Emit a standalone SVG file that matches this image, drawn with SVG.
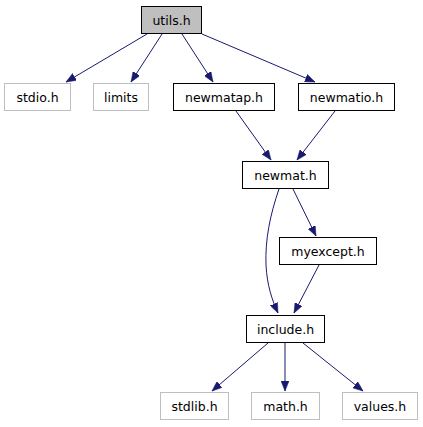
<svg xmlns="http://www.w3.org/2000/svg" width="423" height="427" viewBox="0 0 423 427">
<style>
.box{fill:#ffffff;stroke:#000000;stroke-width:1}
.ext{fill:#ffffff;stroke:#bfbfbf;stroke-width:1}
.cur{fill:#bfbfbf;stroke:#000000;stroke-width:1}
text{font-family:"DejaVu Sans","Liberation Sans",sans-serif;font-size:12.5px;fill:#000000;text-anchor:middle}
.edge{fill:none;stroke:#191970;stroke-width:1;marker-end:url(#arr)}
</style>
<defs>
<marker id="arr" markerUnits="userSpaceOnUse" markerWidth="11" markerHeight="8" refX="10" refY="4" orient="auto">
<path d="M0,0 L10,4 L0,8 z" fill="#191970" stroke="#191970" stroke-width="0.5"/>
</marker>
</defs>
<rect width="423" height="427" fill="#ffffff"/>
<g id="edges">
<path class="edge" d="M147,34 L66,82"/>
<path class="edge" d="M162,34 L131,82"/>
<path class="edge" d="M182,34 L213,82"/>
<path class="edge" d="M202,34 L315,82"/>
<path class="edge" d="M236,111 L271,160"/>
<path class="edge" d="M335,111 L297,160"/>
<path class="edge" d="M293,189 L316,236"/>
<path class="edge" d="M279,189 C270,215 265,240 266,265 C267,285 272,300 278,313"/>
<path class="edge" d="M319,265 L294,313"/>
<path class="edge" d="M268,343 L212,391"/>
<path class="edge" d="M285,343 L285,391"/>
<path class="edge" d="M303,343 L363,391"/>
</g>
<g id="utils"><rect class="cur" x="141.5" y="6.5" width="60" height="27"/><text x="171.5" y="24.5">utils.h</text></g>
<g id="stdio"><rect class="ext" x="4.5" y="83.5" width="66" height="27"/><text x="37.5" y="101.5">stdio.h</text></g>
<g id="limits"><rect class="ext" x="93.5" y="83.5" width="55" height="27"/><text x="121" y="101.5">limits</text></g>
<g id="newmatap"><rect class="box" x="173.5" y="83.5" width="101" height="27"/><text x="224" y="101.5">newmatap.h</text></g>
<g id="newmatio"><rect class="box" x="298.5" y="83.5" width="96" height="27"/><text x="346.5" y="101.5">newmatio.h</text></g>
<g id="newmat"><rect class="box" x="242.5" y="161.5" width="86" height="27"/><text x="285.5" y="179.5">newmat.h</text></g>
<g id="myexcept"><rect class="box" x="279.5" y="237.5" width="97" height="27"/><text x="328" y="255.5">myexcept.h</text></g>
<g id="include"><rect class="box" x="246.5" y="315.5" width="78" height="27"/><text x="285.5" y="333.5">include.h</text></g>
<g id="stdlib"><rect class="ext" x="160.5" y="392.5" width="68" height="27"/><text x="194.5" y="410.5">stdlib.h</text></g>
<g id="math"><rect class="ext" x="251.5" y="392.5" width="68" height="27"/><text x="285.5" y="410.5">math.h</text></g>
<g id="values"><rect class="ext" x="342.5" y="392.5" width="75" height="27"/><text x="380" y="410.5">values.h</text></g>
</svg>
